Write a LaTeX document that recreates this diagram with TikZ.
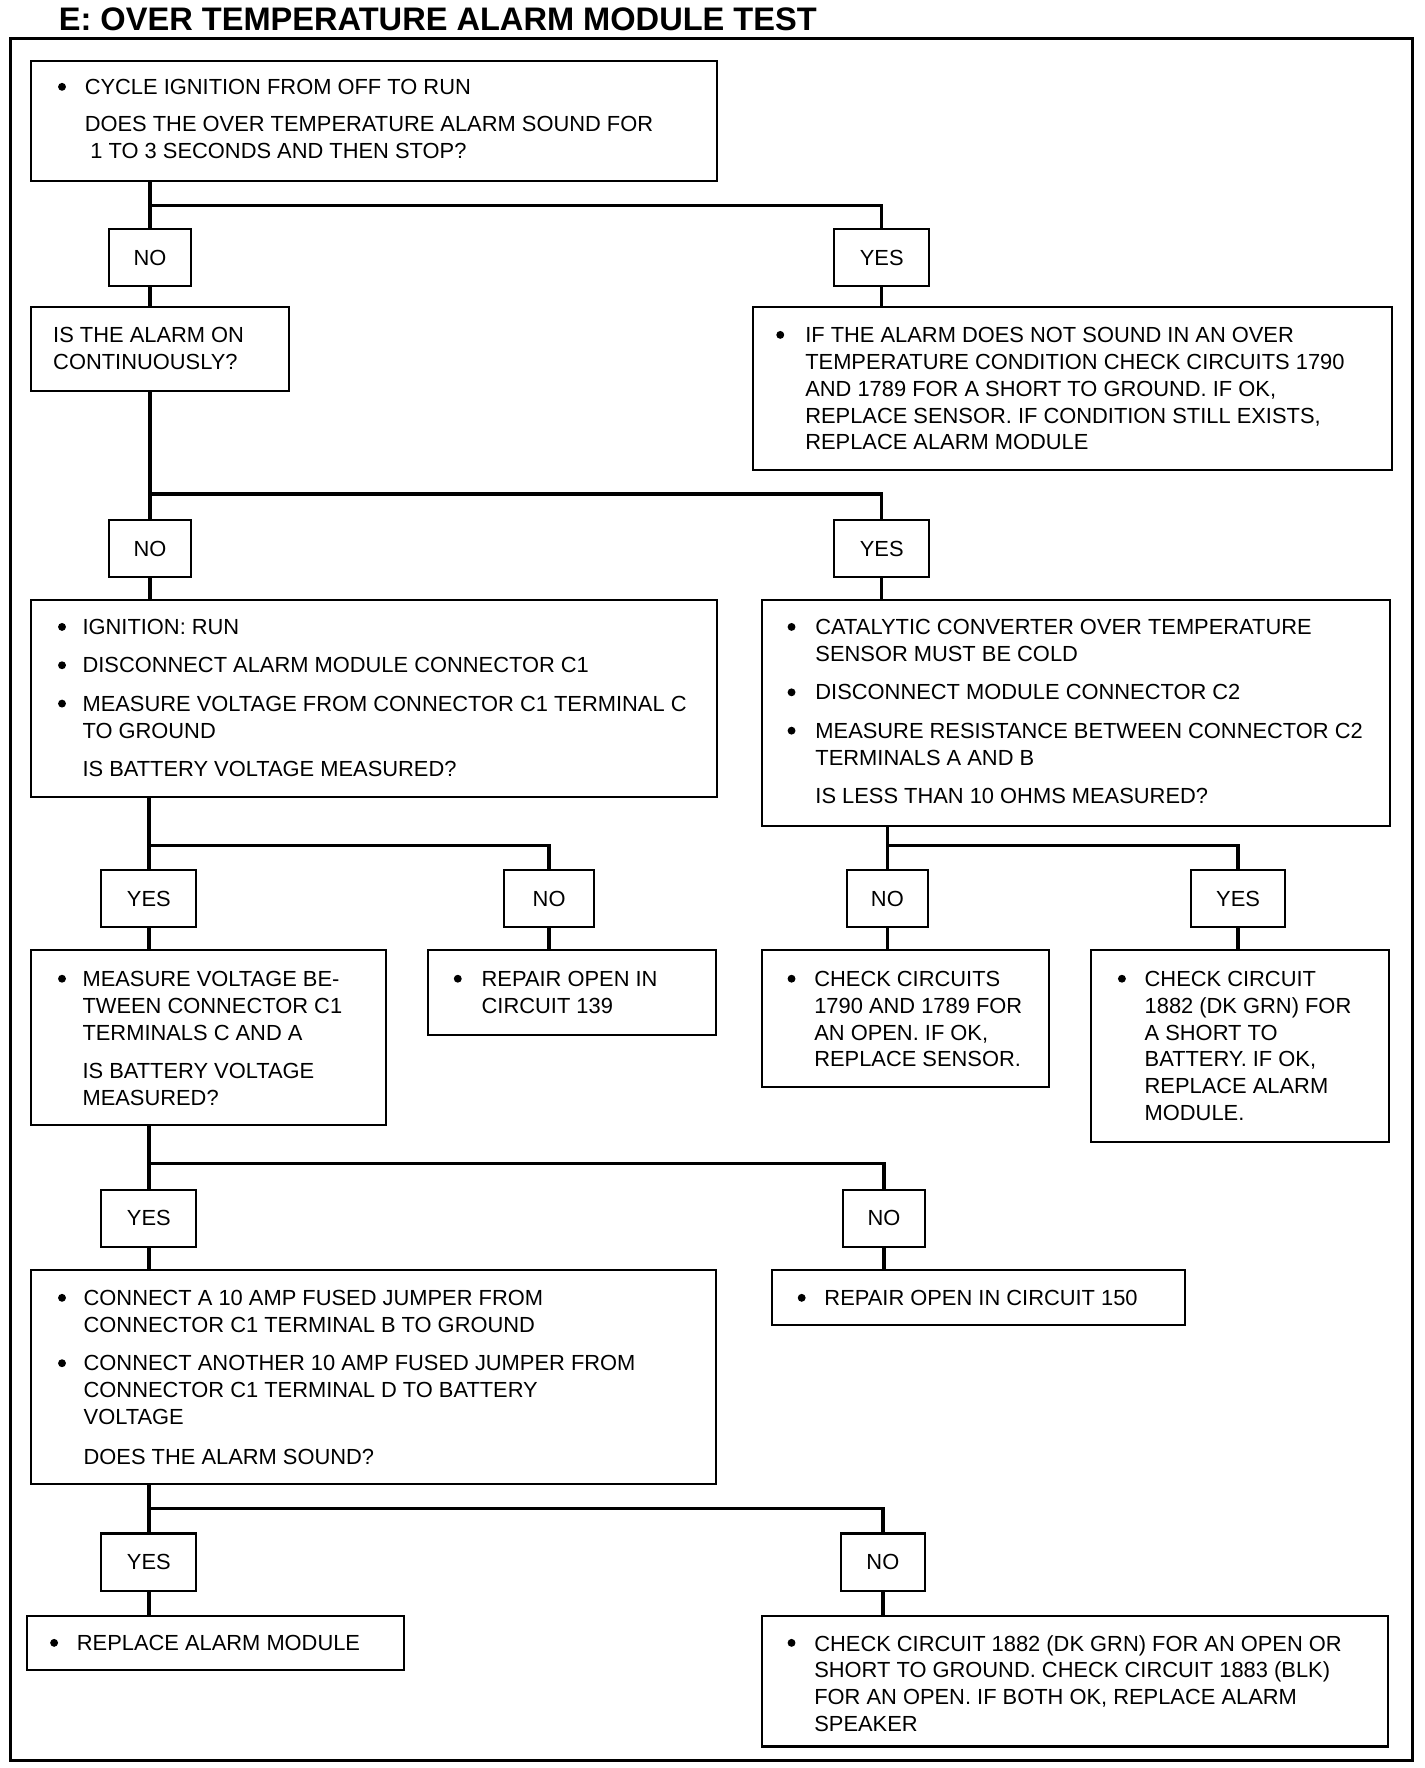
\documentclass[tikz,border=0pt]{standalone}
\usepackage{fontspec}
\setmainfont{Liberation Sans}
\begin{document}
\begin{tikzpicture}[x=1pt,y=-1pt,
  boxst/.style={draw,line width=1.8pt,rectangle,inner sep=0pt,anchor=north west},
  lbl/.style={draw,line width=1.8pt,rectangle,inner sep=0pt,minimum height=51pt,font=\fontsize{19.4}{23.8}\selectfont},
  txt/.style={anchor=north west,inner sep=0pt,align=left,yshift=7pt,font=\fontsize{19.4}{23.8}\selectfont},
  bul/.style={circle,fill,inner sep=0pt,minimum size=7pt},
  conn/.style={line width=3pt},
  frm/.style={draw,line width=2.6pt,rectangle,inner sep=0pt,anchor=north west}]
\useasboundingbox (0,0) rectangle (1263,1568);
\newcommand\bx[5]{\node[boxst,minimum width={(#4-#2)*1pt},minimum height={(#5-#3)*1pt}] (#1) at (#2,#3) {};}
\newcommand\tx[4]{\node[txt] (#1) at (#2,#3) {#4};}
\newcommand\bu[3]{\node[bul] (#1) at (#2,#3) {};}
% title and frame
\node[anchor=west,inner sep=0pt,font=\fontsize{28.9}{30}\selectfont\bfseries] (title) at (52,17) {E: OVER TEMPERATURE ALARM MODULE TEST};
\node[frm,minimum width=1243pt,minimum height=1527pt] (frame) at (8,33) {};
% boxes
\bx{b1}{27}{53}{635}{160}
\bx{b2}{27}{271}{255}{346}
\bx{b3}{667}{271}{1234}{416}
\bx{b4}{27}{531}{635}{706}
\bx{b5}{675}{531}{1232}{732}
\bx{b6}{27}{842}{341}{997}
\bx{b7}{379}{842}{634}{917}
\bx{b8}{675}{842}{929}{963}
\bx{b9}{967}{842}{1231}{1012}
\bx{b10}{27}{1125}{634}{1315}
\bx{b11}{684}{1125}{1050}{1174}
\bx{b12}{23}{1432}{357}{1480}
\bx{b13}{675}{1432}{1230}{1548}
% box texts
\bu{p1}{55}{77}
\tx{t1a}{75}{77}{CYCLE IGNITION FROM OFF TO RUN}
\tx{t1b}{75}{110}{DOES THE OVER TEMPERATURE ALARM SOUND FOR\\\hspace*{5pt}1 TO 3 SECONDS AND THEN STOP?}
\tx{t2}{47}{297}{IS THE ALARM ON\\CONTINUOUSLY?}
\bu{p3}{692}{297}
\tx{t3}{714}{297}{IF THE ALARM DOES NOT SOUND IN AN OVER\\TEMPERATURE CONDITION CHECK CIRCUITS 1790\\AND 1789 FOR A SHORT TO GROUND. IF OK,\\REPLACE SENSOR. IF CONDITION STILL EXISTS,\\REPLACE ALARM MODULE}
\bu{p4a}{55}{556}\bu{p4b}{55}{590}\bu{p4c}{55}{624}
\tx{t4a}{73}{556}{IGNITION: RUN}
\tx{t4b}{73}{590}{DISCONNECT ALARM MODULE CONNECTOR C1}
\tx{t4c}{73}{624}{MEASURE VOLTAGE FROM CONNECTOR C1 TERMINAL C\\TO GROUND}
\tx{t4d}{73}{682}{IS BATTERY VOLTAGE MEASURED?}
\bu{p5a}{702}{556}\bu{p5b}{702}{614}\bu{p5c}{702}{648}
\tx{t5a}{723}{556}{CATALYTIC CONVERTER OVER TEMPERATURE\\SENSOR MUST BE COLD}
\tx{t5b}{723}{614}{DISCONNECT MODULE CONNECTOR C2}
\tx{t5c}{723}{648}{MEASURE RESISTANCE BETWEEN CONNECTOR C2\\TERMINALS A AND B}
\tx{t5d}{723}{706}{IS LESS THAN 10 OHMS MEASURED?}
\bu{p6}{55}{868}
\tx{t6a}{73}{868}{MEASURE VOLTAGE BE-\\TWEEN CONNECTOR C1\\TERMINALS C AND A}
\tx{t6b}{73}{950}{IS BATTERY VOLTAGE\\MEASURED?}
\bu{p7}{406}{868}
\tx{t7}{427}{868}{REPAIR OPEN IN\\CIRCUIT 139}
\bu{p8}{702}{868}
\tx{t8}{722}{868}{CHECK CIRCUITS\\1790 AND 1789 FOR\\AN OPEN. IF OK,\\REPLACE SENSOR.}
\bu{p9}{995}{868}
\tx{t9}{1015}{868}{CHECK CIRCUIT\\1882 (DK GRN) FOR\\A SHORT TO\\BATTERY. IF OK,\\REPLACE ALARM\\MODULE.}
\bu{p10a}{55}{1151}\bu{p10b}{55}{1209}
\tx{t10a}{74}{1151}{CONNECT A 10 AMP FUSED JUMPER FROM\\CONNECTOR C1 TERMINAL B TO GROUND}
\tx{t10b}{74}{1209}{CONNECT ANOTHER 10 AMP FUSED JUMPER FROM\\CONNECTOR C1 TERMINAL D TO BATTERY\\VOLTAGE}
\tx{t10c}{74}{1292}{DOES THE ALARM SOUND?}
\bu{p11}{711}{1151}
\tx{t11}{731}{1151}{REPAIR OPEN IN CIRCUIT 150}
\bu{p12}{48}{1457}
\tx{t12}{68}{1457}{REPLACE ALARM MODULE}
\bu{p13}{702}{1457}
\tx{t13}{722}{1457}{CHECK CIRCUIT 1882 (DK GRN) FOR AN OPEN OR\\SHORT TO GROUND. CHECK CIRCUIT 1883 (BLK)\\FOR AN OPEN. IF BOTH OK, REPLACE ALARM\\SPEAKER}
% labels
\node[lbl,minimum width=72pt] (n1) at (133,228.5) {NO};
\node[lbl,minimum width=84pt] (y1) at (782,228.5) {YES};
\node[lbl,minimum width=72pt] (n2) at (133,486.5) {NO};
\node[lbl,minimum width=84pt] (y2) at (782,486.5) {YES};
\node[lbl,minimum width=84pt] (y3) at (132,797) {YES};
\node[lbl,minimum width=80pt] (n3) at (487,797) {NO};
\node[lbl,minimum width=72pt] (n4) at (787,797) {NO};
\node[lbl,minimum width=83pt] (y4) at (1098,797) {YES};
\node[lbl,minimum width=84pt] (y5) at (132,1080.5) {YES};
\node[lbl,minimum width=72pt] (n5) at (784,1080.5) {NO};
\node[lbl,minimum width=84pt] (y6) at (132,1385.5) {YES};
\node[lbl,minimum width=74pt] (n6) at (783,1385.5) {NO};
% junctions
\coordinate (j1) at (133,182);
\coordinate (j2) at (133,438);
\coordinate (j3) at (133,750);
\coordinate (j4) at (787,750);
\coordinate (j5) at (133,1032);
\coordinate (j6) at (133,1338);
% connectors
\draw[conn] (n1 |- b1.south) -- (n1.north);
\draw[conn] (n1.center |- j1) -| (y1.north);
\draw[conn] (n1.south) -- (n1.south |- b2.north);
\draw[conn] (y1.south) -- (y1.south |- b3.north);
\draw[conn] (n2 |- b2.south) -- (n2.north);
\draw[conn] (n2.center |- j2) -| (y2.north);
\draw[conn] (n2.south) -- (n2.south |- b4.north);
\draw[conn] (y2.south) -- (y2.south |- b5.north);
\draw[conn] (y3 |- b4.south) -- (y3.north);
\draw[conn] (y3.center |- j3) -| (n3.north);
\draw[conn] (y3.south) -- (y3.south |- b6.north);
\draw[conn] (n3.south) -- (n3.south |- b7.north);
\draw[conn] (n4 |- b5.south) -- (n4.north);
\draw[conn] (n4.center |- j4) -| (y4.north);
\draw[conn] (n4.south) -- (n4.south |- b8.north);
\draw[conn] (y4.south) -- (y4.south |- b9.north);
\draw[conn] (y5 |- b6.south) -- (y5.north);
\draw[conn] (y5.center |- j5) -| (n5.north);
\draw[conn] (y5.south) -- (y5.south |- b10.north);
\draw[conn] (n5.south) -- (n5.south |- b11.north);
\draw[conn] (y6 |- b10.south) -- (y6.north);
\draw[conn] (y6.center |- j6) -| (n6.north);
\draw[conn] (y6.south) -- (y6.south |- b12.north);
\draw[conn] (n6.south) -- (n6.south |- b13.north);
\end{tikzpicture}
\end{document}
